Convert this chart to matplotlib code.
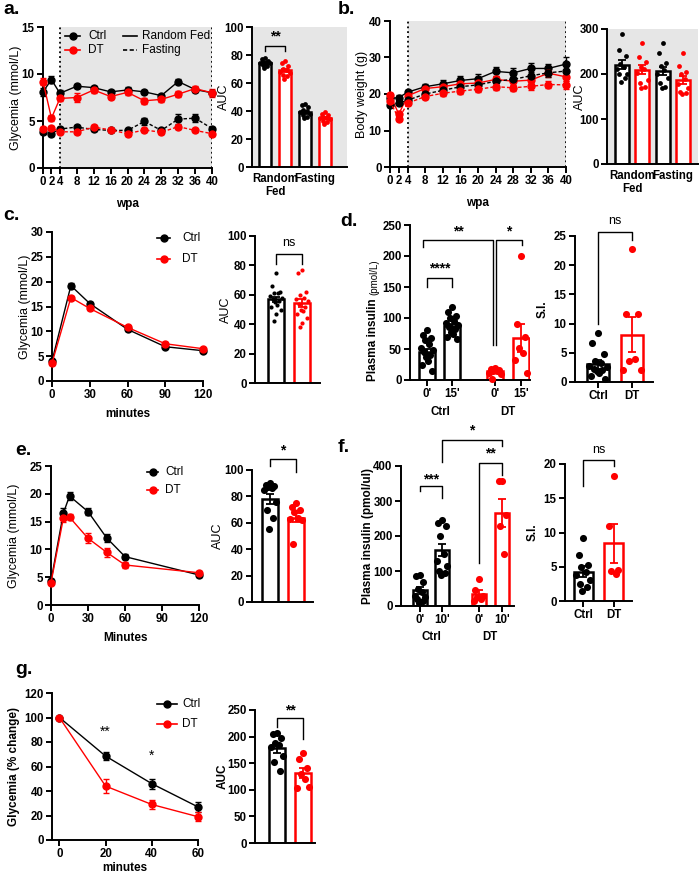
import numpy as np
import matplotlib
matplotlib.use("Agg")
import matplotlib.pyplot as plt
from matplotlib.lines import Line2D

plt.rcParams['font.family'] = ['Liberation Sans', 'DejaVu Sans']
plt.rcParams['font.weight'] = 'bold'
plt.rcParams['axes.labelweight'] = 'bold'

W, H = 699, 877
BLACK = '#000000'
RED = '#ff0000'
GREY = '#e6e6e6'

# ---- a. glycemia over weeks post ablation ----
wpa = [0, 2, 4, 8, 12, 16, 20, 24, 28, 32, 36, 40]
a_ctrl_fed = [8.1, 9.4, 7.95, 8.7, 8.55, 8.1, 8.3, 8.1, 7.7, 9.2, 8.35, 8.0]
a_ctrl_fed_err = [0.4, 0.35, 0.3, 0.2, 0.2, 0.2, 0.3, 0.2, 0.2, 0.3, 0.3, 0.2]
a_dt_fed = [9.2, 5.3, 7.4, 7.5, 8.3, 7.6, 8.05, 7.15, 7.3, 7.85, 8.45, 8.0]
a_dt_fed_err = [0.4, 0.3, 0.3, 0.5, 0.3, 0.3, 0.3, 0.3, 0.3, 0.3, 0.3, 0.4]
a_ctrl_fast = [3.8, 3.65, 4.15, 4.35, 4.1, 4.0, 4.0, 4.95, 4.0, 5.2, 5.3, 4.2]
a_ctrl_fast_err = [0.2, 0.2, 0.2, 0.2, 0.2, 0.2, 0.2, 0.4, 0.2, 0.5, 0.4, 0.2]
a_dt_fast = [4.15, 4.25, 3.85, 3.85, 4.35, 4.05, 3.65, 4.05, 3.8, 4.4, 4.0, 3.65]
a_dt_fast_err = [0.2, 0.2, 0.2, 0.2, 0.2, 0.2, 0.2, 0.2, 0.2, 0.2, 0.2, 0.2]

auc_groups = ['Random\nFed', 'Fasting']
a_auc_means = [74, 69, 39, 35]
a_auc_err = [0.8, 1.3, 1.3, 0.8]
a_auc_pts = [[78, 77, 76, 75, 75, 74, 74, 73, 72, 71],
             [76, 74, 72, 70, 69, 68, 67, 66, 65, 63],
             [45, 44, 43, 41, 40, 39, 38, 37, 36, 35],
             [39, 38, 37, 36, 35, 35, 34, 33, 32, 31]]

# ---- b. body weight ----
b_ctrl_fed = [18.8, 19.0, 20.5, 22.0, 22.8, 23.7, 24.2, 26.2, 25.8, 27.0, 27.0, 28.2]
b_ctrl_fed_err = [0.8, 0.6, 0.6, 0.7, 0.9, 1.2, 1.3, 1.3, 1.3, 1.4, 1.3, 1.8]
b_dt_fed = [19.8, 14.5, 19.5, 21.5, 22.0, 22.8, 23.0, 24.0, 23.5, 23.8, 25.7, 24.7]
b_dt_fed_err = [0.6, 0.8, 0.7, 0.8, 0.9, 0.9, 1.0, 1.0, 1.0, 1.0, 1.0, 1.1]
b_ctrl_fast = [17.0, 17.5, 18.3, 20.0, 21.0, 22.0, 22.5, 23.5, 24.0, 25.0, 25.8, 26.3]
b_ctrl_fast_err = [0.6, 0.6, 0.6, 0.7, 0.8, 0.9, 1.0, 1.0, 1.1, 1.1, 1.2, 1.3]
b_dt_fast = [18.0, 13.2, 17.5, 19.3, 20.2, 20.8, 21.3, 22.0, 21.7, 22.1, 22.6, 22.5]
b_dt_fast_err = [0.6, 0.7, 0.6, 0.7, 0.7, 0.8, 0.8, 0.9, 0.9, 0.9, 0.9, 1.0]

b_auc_means = [221, 209, 206, 187]
b_auc_err = [11, 10, 9, 9]
b_auc_pts = [[288, 253, 240, 222, 215, 210, 200, 200, 190, 183],
             [268, 237, 227, 216, 210, 203, 187, 180, 170, 168],
             [268, 247, 225, 218, 209, 200, 190, 181, 170, 168],
             [246, 218, 205, 200, 189, 178, 168, 160, 157, 156]]

# ---- c. GTT ----
c_min = [0, 15, 30, 60, 90, 120]
c_ctrl = [4.0, 19.2, 15.6, 10.4, 6.9, 6.1]
c_ctrl_err = [0.3, 0.5, 0.4, 0.3, 0.3, 0.2]
c_dt = [3.6, 16.8, 14.6, 10.8, 7.5, 6.5]
c_dt_err = [0.3, 0.4, 0.4, 0.3, 0.3, 0.2]
c_auc_means = [57, 54.5]
c_auc_err = [1.8, 2.8]
c_auc_pts = [[75, 66, 62, 61, 61, 59, 58, 57, 56, 55, 53, 52, 50, 47, 42],
             [77, 75, 62, 60, 58, 57, 56, 54, 52, 50, 49, 47, 44, 41, 38]]

# ---- d. plasma insulin (15') and S.I. ----
d_ticks = ["0'", "15'", "0'", "15'"]
d_means = [45, 87, 14, 68]
d_err = [5, 4, 2, 23]
d_pts = [[80, 72, 68, 65, 58, 52, 48, 45, 40, 37, 30, 25, 14],
         [117, 110, 103, 100, 95, 92, 88, 85, 82, 78, 74, 70, 66],
         [20, 18, 16, 15, 14, 12, 10, 2],
         [200, 90, 70, 52, 44, 32, 12]]
d_si_means = [3.0, 8.1]
d_si_err = [0.7, 3.0]
d_si_pts = [[8.4, 6.6, 4.8, 3.6, 3.2, 2.8, 2.5, 2.2, 2.0, 1.8, 1.5, 1.0, 0.5],
            [22.7, 11.6, 11.6, 3.6, 3.9, 2.0, 2.0]]

# ---- e. GTT ----
e_min = [0, 10, 15, 30, 45, 60, 120]
e_ctrl = [4.3, 16.5, 19.6, 16.8, 12.1, 8.7, 5.4]
e_ctrl_err = [0.3, 0.9, 0.8, 0.6, 0.7, 0.4, 0.3]
e_dt = [4.0, 15.6, 15.8, 12.0, 9.5, 7.2, 5.8]
e_dt_err = [0.3, 0.6, 0.6, 0.9, 0.8, 0.6, 0.3]
e_auc_means = [78, 64]
e_auc_err = [3.5, 3.5]
e_auc_pts = [[90, 89, 88, 87, 86, 85, 76, 70, 64, 55],
             [75, 72, 70, 68, 64, 63, 62, 44]]

# ---- f. plasma insulin (10') and S.I. ----
f_ticks = ["0'", "10'", "0'", "10'"]
f_means = [45, 160, 35, 265]
f_err = [10, 16, 11, 40]
f_pts = [[90, 85, 70, 50, 40, 30, 25, 20, 15, 10],
         [246, 238, 228, 200, 150, 130, 115, 100, 95, 90],
         [78, 45, 30, 25, 20, 15],
         [356, 356, 260, 230, 150]]
f_si_means = [4.3, 8.4]
f_si_err = [0.75, 2.8]
f_si_pts = [[9.2, 6.7, 5.2, 5.0, 4.2, 3.8, 3.0, 2.5, 2.0, 1.5],
            [18.2, 11.0, 4.5, 4.4, 3.9]]

# ---- g. ITT ----
g_min = [0, 20, 40, 60]
g_ctrl = [100, 68.5, 46, 27]
g_ctrl_err = [0, 3.5, 4, 4]
g_dt = [100, 44, 29, 19]
g_dt_err = [0, 5.5, 4, 3.5]
g_auc_means = [178, 132]
g_auc_err = [8, 9]
g_auc_pts = [[206, 204, 197, 188, 185, 181, 163, 152, 135],
             [169, 157, 141, 129, 120, 104, 105]]

fig = plt.figure(figsize=(W / 100, H / 100), dpi=100)


def px_ax(l, t, r, b):
    ax = fig.add_axes([l / W, 1 - b / H, (r - l) / W, (b - t) / H])
    ax.spines['top'].set_visible(False)
    ax.spines['right'].set_visible(False)
    for s in ('left', 'bottom'):
        ax.spines[s].set_linewidth(1.4)
    ax.tick_params(direction='out', length=4, width=1.4, labelsize=8.3, pad=2)
    return ax


def ftext(x, y, s, **kw):
    fig.text(x / W, 1 - y / H, s, **kw)


def ylab(ax, x, s, fs=9, weight='normal'):
    # y label centred on the axes, at pixel column x
    box = ax.get_position()
    fig.text(x / W, box.y0 + box.height / 2, s, rotation=90, ha='center', va='center',
             fontsize=fs, fontweight=weight)


def legend_row(x0, x1, y, color, label, tx, ls='-', marker=True):
    fig.add_artist(Line2D([x0 / W, x1 / W], [1 - y / H] * 2, color=color, lw=1.2, ls=ls))
    if marker:
        fig.add_artist(Line2D([(x0 + x1) / 2 / W], [1 - y / H], marker='o', color=color, ms=5))
    ftext(tx, y, label, va='center', ha='left', fontsize=8.5, fontweight='normal')


def line_series(ax, x, y, err, color, ls='-'):
    ax.errorbar(x, y, yerr=err, color=color, ls=ls, lw=1, marker='o', ms=5,
                capsize=2.5, elinewidth=1, capthick=1, clip_on=False, zorder=3)


PATTERN = [0, -0.6, 0.6, -0.3, 0.3, -0.9, 0.9, -0.45, 0.45, -0.15, 0.15, -0.75, 0.75, 0.05, -0.3]


def bar_panel(ax, xs, means, errs, pts, colors, width, s=12):
    for x, m, e, p, c in zip(xs, means, errs, pts, colors):
        ax.bar(x, m, width, color='white', edgecolor=c, linewidth=1.8, zorder=2)
        offs = np.array([PATTERN[i % len(PATTERN)] for i in range(len(p))]) * width * 0.42
        ax.scatter(x + offs, p, s=s, color=c, zorder=3, linewidths=0, clip_on=False)
        ax.errorbar(x, m, yerr=e, color=c, fmt='none', capsize=3, elinewidth=1.3,
                    capthick=1.3, zorder=4)


def bracket(ax, x1, x2, y, l1, l2, text, ty, fs=10, weight='bold'):
    ax.plot([x1, x1, x2, x2], [l1, y, y, l2], color='k', lw=1, clip_on=False)
    ax.text((x1 + x2) / 2, ty, text, ha='center', va='center', fontsize=fs,
            fontweight=weight, clip_on=False)


cols4 = [BLACK, RED, BLACK, RED]
cols2 = [BLACK, RED]

# ================= a =================
ax = px_ax(43, 27, 212, 168)
ax.axvspan(4, 40, color=GREY, zorder=0, lw=0)
for xv in (4, 40):
    ax.axvline(xv, ls=':', color='k', lw=1.3, zorder=1)
line_series(ax, wpa, a_ctrl_fed, a_ctrl_fed_err, BLACK)
line_series(ax, wpa, a_dt_fed, a_dt_fed_err, RED)
line_series(ax, wpa, a_ctrl_fast, a_ctrl_fast_err, BLACK, (0, (2.5, 1.5)))
line_series(ax, wpa, a_dt_fast, a_dt_fast_err, RED, (0, (2.5, 1.5)))
ax.set_xlim(0, 40)
ax.set_ylim(0, 15)
ax.set_yticks([0, 5, 10, 15])
ax.set_xticks(wpa)
ylab(ax, 16, 'Glycemia (mmol/L)')
ax.set_xlabel('wpa', fontsize=8.5, labelpad=7)
legend_row(65, 80, 36, BLACK, 'Ctrl', 88)
legend_row(65, 80, 50, RED, 'DT', 88)
legend_row(123, 137, 36, BLACK, 'Random Fed', 142, marker=False)
legend_row(123, 137, 50, BLACK, 'Fasting', 142, ls=(0, (2.5, 1.5)), marker=False)

ax = px_ax(252, 27, 347, 167)
ax.set_facecolor(GREY)
bar_panel(ax, [0, 1, 2, 3], a_auc_means, a_auc_err, a_auc_pts, cols4, 0.6, s=12)
ax.set_xlim(-0.65, 4.1)
ax.set_ylim(0, 100)
ax.set_yticks(range(0, 101, 20))
ax.set_xticks([0.5, 2.5], auc_groups)
ax.tick_params(axis='x', length=0, pad=4)
ylab(ax, 224, 'AUC')
bracket(ax, 0, 1, 86.5, 83, 83, '**', 93)

# ================= b =================
ax = px_ax(390, 21, 566, 167)
ax.axvspan(4, 40, color=GREY, zorder=0, lw=0)
for xv in (4, 40):
    ax.axvline(xv, ls=':', color='k', lw=1.3, zorder=1)
line_series(ax, wpa, b_ctrl_fed, b_ctrl_fed_err, BLACK)
line_series(ax, wpa, b_dt_fed, b_dt_fed_err, RED)
line_series(ax, wpa, b_ctrl_fast, b_ctrl_fast_err, BLACK, (0, (2.5, 1.5)))
line_series(ax, wpa, b_dt_fast, b_dt_fast_err, RED, (0, (2.5, 1.5)))
ax.set_xlim(0, 40)
ax.set_ylim(0, 40)
ax.set_yticks([0, 10, 20, 30, 40])
ax.set_xticks(wpa)
ylab(ax, 362, 'Body weight (g)')
ax.set_xlabel('wpa', fontsize=8.5, labelpad=7)

ax = px_ax(607, 29, 698, 164)
ax.set_facecolor(GREY)
bar_panel(ax, [0, 1, 2, 3], b_auc_means, b_auc_err, b_auc_pts, cols4, 0.68, s=12)
ax.set_xlim(-0.74, 3.74)
ax.set_ylim(0, 300)
ax.set_yticks([0, 100, 200, 300])
ax.set_xticks([0.5, 2.5], auc_groups)
ax.tick_params(axis='x', length=0, pad=4)
ylab(ax, 580, 'AUC')

# ================= c =================
ax = px_ax(52, 232, 203, 381)
line_series(ax, c_min, c_ctrl, c_ctrl_err, BLACK)
line_series(ax, c_min, c_dt, c_dt_err, RED)
ax.set_xlim(0, 120)
ax.set_ylim(0, 30)
ax.set_yticks(range(0, 31, 5))
ax.set_xticks(range(0, 121, 30))
ylab(ax, 25, 'Glycemia (mmol/L)')
ax.set_xlabel('minutes', fontsize=8.5, labelpad=5)
legend_row(157, 170, 238, BLACK, 'Ctrl', 182)
legend_row(157, 170, 259, RED, 'DT', 182)

ax = px_ax(255, 236, 320, 383)
bar_panel(ax, [0, 1], c_auc_means, c_auc_err, c_auc_pts, cols2, 0.62, s=9)
ax.set_xlim(-0.8, 1.7)
ax.set_ylim(0, 100)
ax.set_yticks(range(0, 101, 20))
ax.set_xticks([])
ylab(ax, 226, 'AUC')
bracket(ax, 0, 1, 88, 81, 81, 'ns', 95, fs=9, weight='normal')

# ================= d =================
d_x = [0, 1, 2.72, 3.76]
ax = px_ax(410, 225, 530, 380)
bar_panel(ax, d_x, d_means, d_err, d_pts, [BLACK, BLACK, RED, RED], 0.64, s=26)
ax.set_xlim(-0.68, 4.12)
ax.set_ylim(0, 250)
ax.set_yticks(range(0, 251, 50))
ax.set_xticks(d_x, d_ticks)
bracket(ax, 0, 1, 165, 150, 150, '****', 180)
bracket(ax, -0.16, 2.64, 226, 215, 56, '**', 240)
bracket(ax, 2.76, 3.8, 226, 56, 217, '*', 240)
ftext(440, 412, 'Ctrl', ha='center', va='center', fontsize=8.3)
ftext(508, 412, 'DT', ha='center', va='center', fontsize=8.3)
ftext(373, 298, 'Plasma insulin', rotation=90, ha='center', va='top', fontsize=8.5)
ftext(374, 295, '(pmol/L)', rotation=90, ha='center', va='bottom', fontsize=7, fontweight='normal')

ax = px_ax(575, 236, 653, 382)
bar_panel(ax, [0, 1], d_si_means, d_si_err, d_si_pts, cols2, 0.67, s=26)
ax.set_xlim(-0.68, 1.62)
ax.set_ylim(0, 25)
ax.set_yticks(range(0, 26, 5))
ax.set_xticks([0, 1], ['Ctrl', 'DT'])
ylab(ax, 543, 'S.I.', fs=8.5, weight='bold')
bracket(ax, 0, 1, 25.7, 10, 24.3, 'ns', 27.6, fs=9, weight='normal')

# ================= e =================
ax = px_ax(51, 466, 199, 605)
line_series(ax, e_min, e_ctrl, e_ctrl_err, BLACK)
line_series(ax, e_min, e_dt, e_dt_err, RED)
ax.set_xlim(0, 120)
ax.set_ylim(0, 25)
ax.set_yticks(range(0, 26, 5))
ax.set_xticks(range(0, 121, 30))
ylab(ax, 14, 'Glycemia (mmol/L)')
ax.set_xlabel('Minutes', fontsize=8.5, labelpad=5)
legend_row(147, 158, 472, BLACK, 'Ctrl', 165)
legend_row(147, 158, 490, RED, 'DT', 165)

ax = px_ax(252, 470, 313, 602)
bar_panel(ax, [0, 1], e_auc_means, e_auc_err, e_auc_pts, cols2, 0.62, s=26)
ax.set_xlim(-0.69, 1.65)
ax.set_ylim(0, 100)
ax.set_yticks(range(0, 101, 20))
ax.set_xticks([])
ylab(ax, 218, 'AUC')
bracket(ax, 0, 1, 108, 103, 98.5, '*', 115)

# ================= f =================
f_x = [0, 1, 2.68, 3.73]
ax = px_ax(401, 466, 514, 606)
bar_panel(ax, f_x, f_means, f_err, f_pts, [BLACK, BLACK, RED, RED], 0.64, s=26)
ax.set_xlim(-0.86, 4.27)
ax.set_ylim(0, 400)
ax.set_yticks(range(0, 401, 100))
ax.set_xticks(f_x, f_ticks)
ylab(ax, 368, 'Plasma insulin (pmol/ul)', fs=8.5, weight='bold')
bracket(ax, 0, 1, 343, 330, 310, '***', 362)
bracket(ax, 2.68, 3.73, 409, 123, 374, '**', 437)
bracket(ax, 1, 3.73, 474, 411, 457, '*', 501)
ftext(431, 637, 'Ctrl', ha='center', va='center', fontsize=8.3)
ftext(490, 637, 'DT', ha='center', va='center', fontsize=8.3)

ax = px_ax(565, 464, 632, 601)
bar_panel(ax, [0, 1], f_si_means, f_si_err, f_si_pts, cols2, 0.62, s=26)
ax.set_xlim(-0.6, 1.6)
ax.set_ylim(0, 20)
ax.set_yticks(range(0, 21, 5))
ax.set_xticks([0, 1], ['Ctrl', 'DT'])
ylab(ax, 533, 'S.I.', fs=8.5, weight='bold')
bracket(ax, 0, 1, 20.6, 16.8, 19.7, 'ns', 22.0, fs=9, weight='normal')

# ================= g =================
ax = px_ax(52, 693, 198, 840)
line_series(ax, g_min, g_ctrl, g_ctrl_err, BLACK)
line_series(ax, g_min, g_dt, g_dt_err, RED)
ax.set_xlim(-3.2, 60)
ax.set_ylim(0, 120)
ax.set_yticks(range(0, 121, 20))
ax.set_xticks(g_min)
ylab(ax, 14, 'Glycemia (% change)', fs=8.5, weight='bold')
ax.set_xlabel('minutes', fontsize=8.5, labelpad=1)
ax.text(20, 88, '**', ha='center', va='center', fontsize=10, fontweight='normal')
ax.text(40, 68.5, '*', ha='center', va='center', fontsize=10, fontweight='normal')
legend_row(157, 177, 704, BLACK, 'Ctrl', 182)
legend_row(157, 177, 724, RED, 'DT', 182)

ax = px_ax(255, 710, 315, 843)
bar_panel(ax, [0, 1], g_auc_means, g_auc_err, g_auc_pts, cols2, 0.62, s=26)
ax.set_xlim(-0.85, 1.46)
ax.set_ylim(0, 250)
ax.set_yticks(range(0, 251, 50))
ax.set_xticks([])
ylab(ax, 223, 'AUC', fs=8.5, weight='bold')
bracket(ax, 0, 1, 235, 218, 196, '**', 249)

# panel letters
for lab, x, y in [('a.', 3, 10), ('b.', 338, 10), ('c.', 3, 215), ('d.', 340, 222),
                  ('e.', 15, 450), ('f.', 338, 448), ('g.', 15, 670)]:
    ftext(x, y, lab, ha='left', va='center', fontsize=14, fontweight='bold')

fig.savefig('out.png', dpi=100)
